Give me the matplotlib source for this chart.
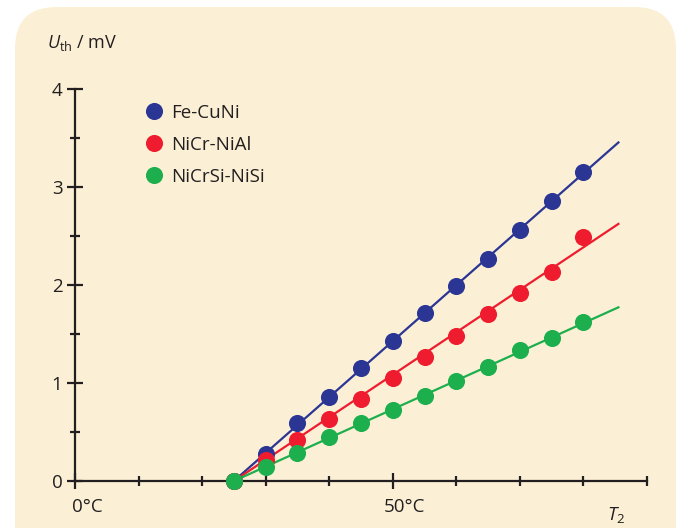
import matplotlib
matplotlib.use("Agg")
import matplotlib.pyplot as plt
from matplotlib.lines import Line2D
from matplotlib.patches import FancyBboxPatch
from matplotlib.ticker import MultipleLocator, FixedLocator

plt.rcParams['font.family'] = ['Open Sans', 'DejaVu Sans']
plt.rcParams['mathtext.fontset'] = 'custom'
plt.rcParams['mathtext.rm'] = 'Open Sans'
plt.rcParams['mathtext.it'] = 'Open Sans:italic'

# temperature T2 in degC
temps = [25, 30, 35, 40, 45, 50, 55, 60, 65, 70, 75, 80]
names = ["Fe-CuNi", "NiCr-NiAl", "NiCrSi-NiSi"]
colors = ["#2b3594", "#ee1c2e", "#1daf4e"]

# measured thermovoltage in mV
fe_cuni = [0.0, 0.28, 0.59, 0.86, 1.15, 1.43, 1.71, 1.99, 2.26, 2.56, 2.85, 3.15]
nicr_nial = [0.0, 0.21, 0.42, 0.63, 0.84, 1.05, 1.26, 1.48, 1.70, 1.92, 2.13, 2.49]
nicrsi_nisi = [0.0, 0.14, 0.29, 0.45, 0.59, 0.72, 0.87, 1.02, 1.16, 1.34, 1.46, 1.62]

# fitted straight lines (start / end)
fit_x = [25, 85.5]
fit_fe = [0.0, 3.45]
fit_nicr = [0.0, 2.62]
fit_nicrsi = [0.0, 1.77]

series = [fe_cuni, nicr_nial, nicrsi_nisi]
fits = [fit_fe, fit_nicr, fit_nicrsi]

fig = plt.figure(figsize=(6.9, 5.28), dpi=100)
fig.patch.set_facecolor("white")

# beige rounded card behind the chart
card = FancyBboxPatch((15 / 690, -40 / 528), 661 / 690, 561 / 528,
                      boxstyle="round,pad=0,rounding_size=0.06",
                      transform=fig.transFigure, facecolor="#fbf0d5",
                      edgecolor="none", mutation_aspect=690 / 528, zorder=-10)
fig.patches.append(card)

ax = fig.add_axes([75 / 690, 47 / 528, 572 / 690, 392.5 / 528])
ax.set_facecolor("none")
ax.set_zorder(1)

for ys, fy, c in zip(series, fits, colors):
    ax.plot(fit_x, fy, color=c, lw=1.6, zorder=2, clip_on=False)
for ys, c in zip(series, colors):
    ax.plot(temps, ys, "o", color=c, ms=12.3, mec="none", zorder=3, clip_on=False)

ax.set_xlim(0, 90)
ax.set_ylim(0, 4)
for s in ["top", "right"]:
    ax.spines[s].set_visible(False)
for s in ["left", "bottom"]:
    ax.spines[s].set_linewidth(1.6)
    ax.spines[s].set_color("#231f20")

ax.xaxis.set_major_locator(FixedLocator([0, 50]))
ax.xaxis.set_minor_locator(MultipleLocator(10))
ax.yaxis.set_major_locator(MultipleLocator(1))
ax.yaxis.set_minor_locator(MultipleLocator(0.5))
ax.tick_params(which="major", direction="inout", length=12, width=1.6,
               color="#231f20", labelsize=13.5, labelcolor="#231f20")
ax.tick_params(which="minor", direction="inout", length=7, width=1.6, color="#231f20")
ax.tick_params(axis="y", pad=3)
ax.set_xticklabels([])

ax.text(-0.5, -0.27, "0°C", fontsize=13.5, color="#231f20", ha="left", va="center")
ax.text(48.6, -0.27, "50°C", fontsize=13.5, color="#231f20", ha="left", va="center")
ax.text(85.2, -0.35, "$T_2$", fontsize=13.5, color="#231f20", ha="center", va="center")

fig.text(47 / 690, 1 - 43 / 528, "$U_{\\mathrm{th}}$ / mV", fontsize=13,
         color="#231f20", ha="left", va="center")

handles = [Line2D([], [], ls="none", marker="o", ms=12.3, mec="none", color=c) for c in colors]
leg = fig.legend(handles, names, loc="upper left", bbox_to_anchor=(137 / 690, 1 - 96 / 528),
                 frameon=False, fontsize=13.5, handlelength=1.0, handletextpad=0.4,
                 labelspacing=0.75, borderaxespad=0)
for t in leg.get_texts():
    t.set_color("#231f20")

fig.savefig("out.png", dpi=100)
